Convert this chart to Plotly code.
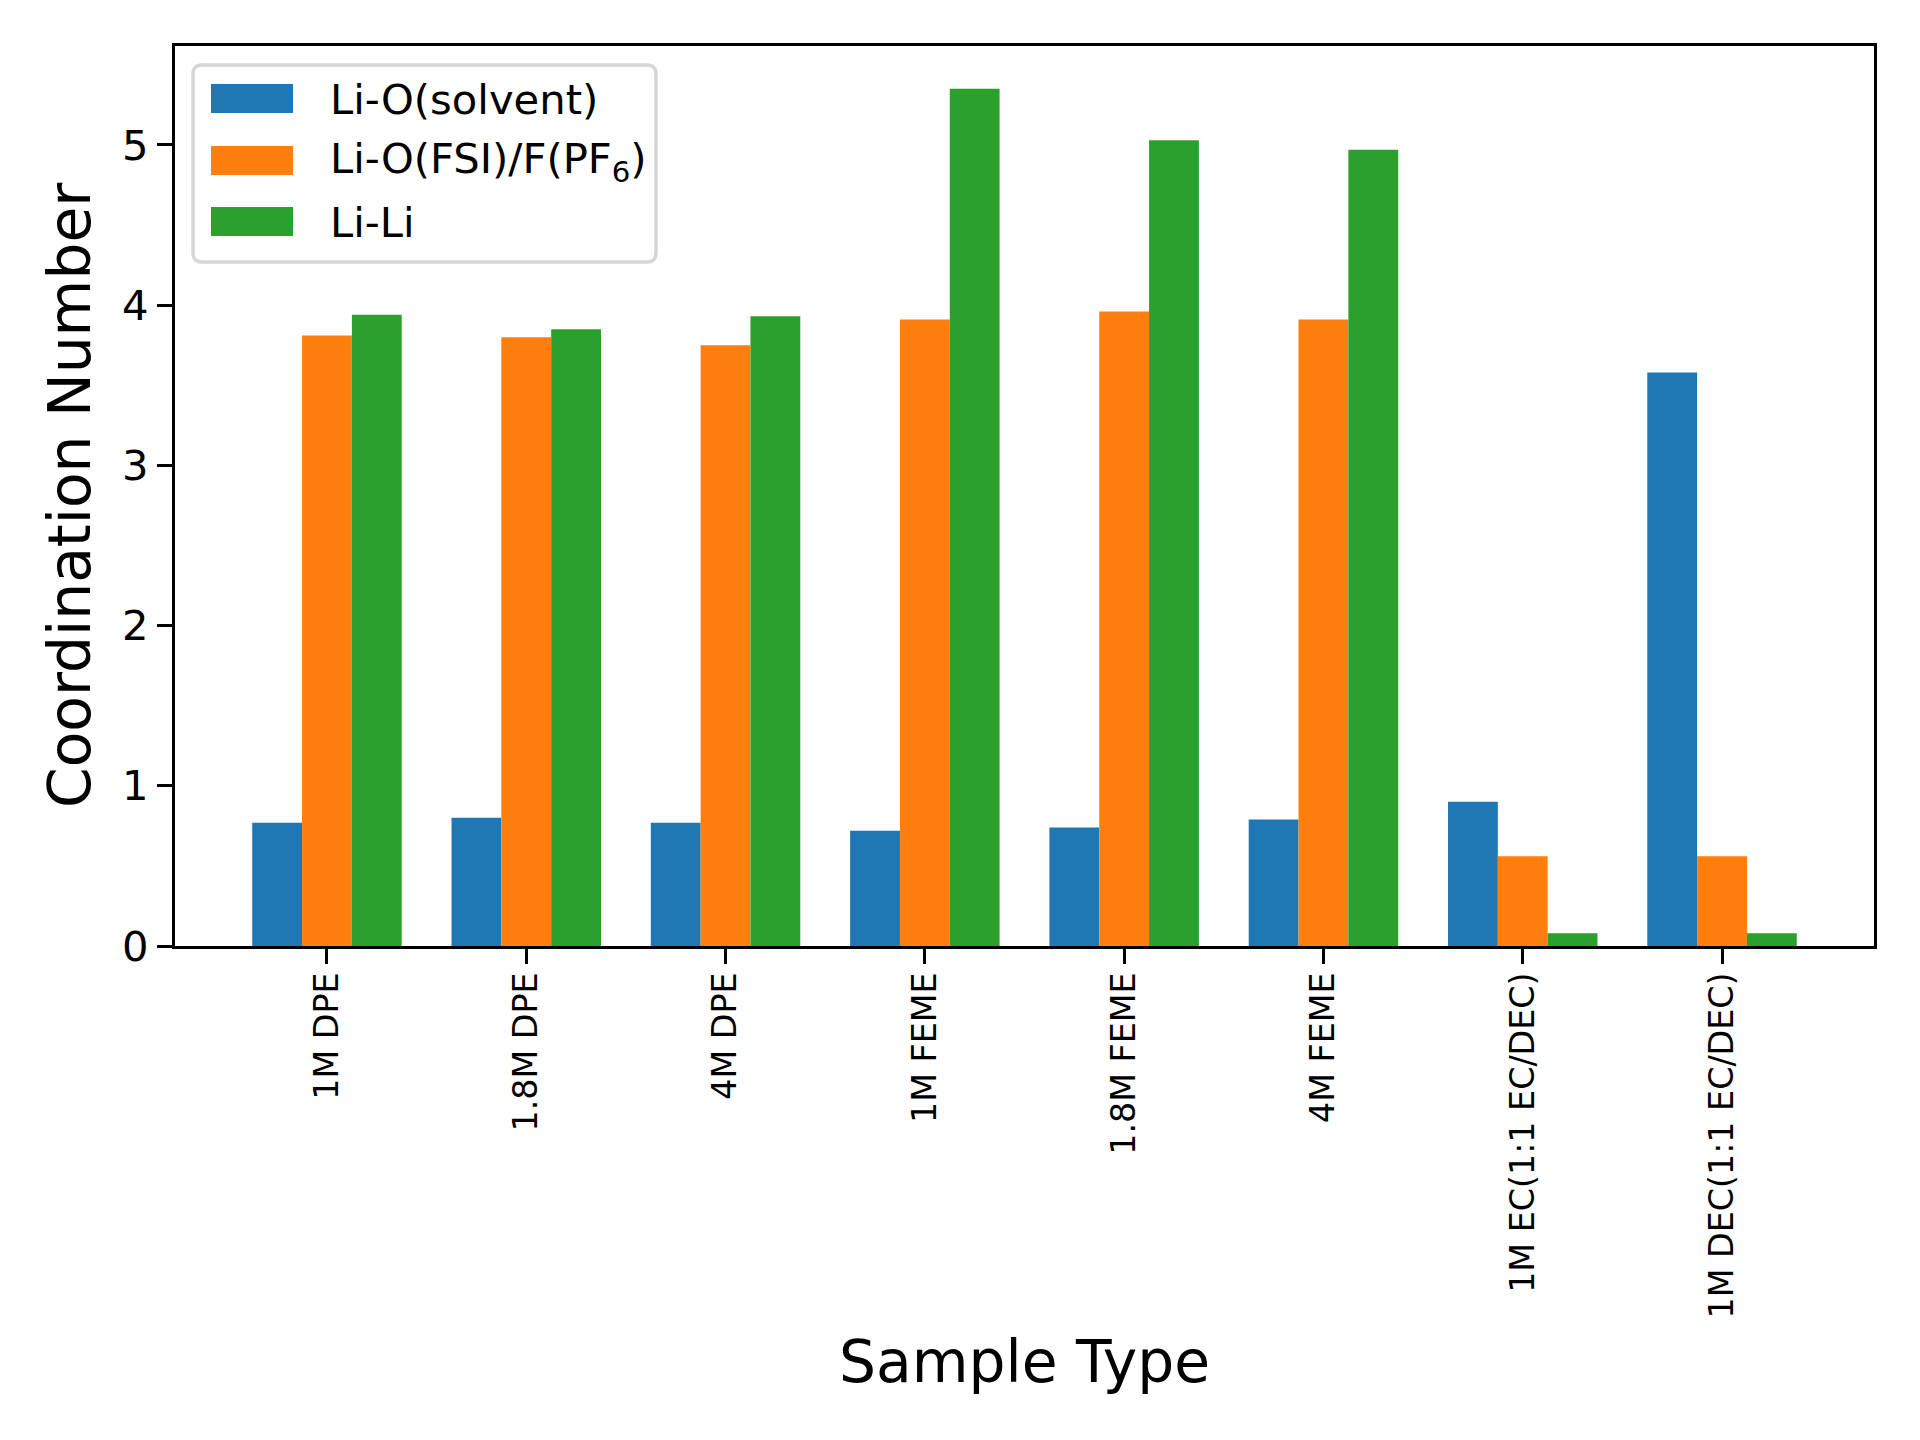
import plotly.graph_objects as go

categories = ["1M DPE", "1.8M DPE", "4M DPE", "1M FEME", "1.8M FEME", "4M FEME",
              "1M EC(1:1 EC/DEC)", "1M DEC(1:1 EC/DEC)"]
li_o_solvent = [0.77, 0.80, 0.77, 0.72, 0.74, 0.79, 0.90, 3.58]
li_o_anion = [3.81, 3.80, 3.75, 3.91, 3.96, 3.91, 0.56, 0.56]
li_li = [3.94, 3.85, 3.93, 5.35, 5.03, 4.97, 0.08, 0.08]
series_names = ["Li-O(solvent)", "Li-O(FSI)/F(PF<sub>6</sub>)", "Li-Li"]
colors = ["#1f77b4", "#ff7f0e", "#2ca02c"]

# page has an 8px body margin; figure sized so it fits the 1920x1440 window
OFF = 8
W, H = 1920 - OFF, 1440 - OFF
# plot-area edges in page pixels (axis lines are drawn just outside them)
L, T = 175 - OFF, 46 - OFF
R, B = W - (1874 - OFF), H - (946 - OFF)
pw, ph = W - L - R, H - T - B

def px(x):
    return (x - OFF - L) / pw

def py(y):
    return (H - B - (y - OFF)) / ph

fig = go.Figure()
for name, vals, col in zip(series_names, [li_o_solvent, li_o_anion, li_li], colors):
    fig.add_trace(go.Bar(x=categories, y=vals, name=name, marker_color=col,
                         marker_line_width=0, showlegend=False))

ymax = max(max(li_o_solvent), max(li_o_anion), max(li_li)) * 1.05
n = len(categories)
pad = (n - 1 + 0.75) * 0.05

axis_common = dict(showline=True, linecolor="black", linewidth=3.3, mirror=True,
                   ticks="outside", ticklen=15, tickwidth=3.3, tickcolor="black",
                   showgrid=False, zeroline=False)

fig.update_layout(
    width=W, height=H,
    margin=dict(l=L, r=R, t=T, b=B),
    paper_bgcolor="white", plot_bgcolor="white",
    font=dict(family="DejaVu Sans", color="black"),
    barmode="group", bargap=0.25, bargroupgap=0,
    xaxis=dict(range=[-0.375 - pad, n - 1 + 0.375 + pad], tickangle=-90,
               tickfont=dict(size=33.3), ticklabelstandoff=-5, **axis_common),
    yaxis=dict(range=[0, ymax], tickvals=[0, 1, 2, 3, 4, 5],
               tickfont=dict(size=41.7), **axis_common),
)

# axis titles
fig.add_annotation(text="Sample Type", xref="paper", yref="paper", x=0.5, y=py(1362),
                   xanchor="center", yanchor="middle", showarrow=False,
                   font=dict(size=58.3))
fig.add_annotation(text="Coordination Number", xref="paper", yref="paper", x=px(70), y=0.5,
                   xanchor="center", yanchor="middle", textangle=-90, showarrow=False,
                   font=dict(size=58.3))

# legend box (rounded)
x0, x1, y0, y1 = px(193), px(656), py(262), py(65)
rx, ry = 9 / pw, 9 / ph
path = (f"M {x0+rx},{y0} L {x1-rx},{y0} Q {x1},{y0} {x1},{y0+ry} "
        f"L {x1},{y1-ry} Q {x1},{y1} {x1-rx},{y1} L {x0+rx},{y1} "
        f"Q {x0},{y1} {x0},{y1-ry} L {x0},{y0+ry} Q {x0},{y0} {x0+rx},{y0} Z")
fig.add_shape(type="path", path=path, xref="paper", yref="paper",
              fillcolor="rgba(255,255,255,0.8)", line=dict(color="#d6d6d6", width=3.5))

patch_tops = [84, 146, 207]
for name, col, top in zip(series_names, colors, patch_tops):
    fig.add_shape(type="rect", xref="paper", yref="paper",
                  x0=px(211), x1=px(293), y0=py(top + 29), y1=py(top),
                  fillcolor=col, line=dict(width=0))
    fig.add_annotation(text=name, xref="paper", yref="paper", x=px(328), y=py(top + 15),
                       xanchor="left", yanchor="middle", showarrow=False,
                       font=dict(size=41.7))

fig.write_html("out.html")
